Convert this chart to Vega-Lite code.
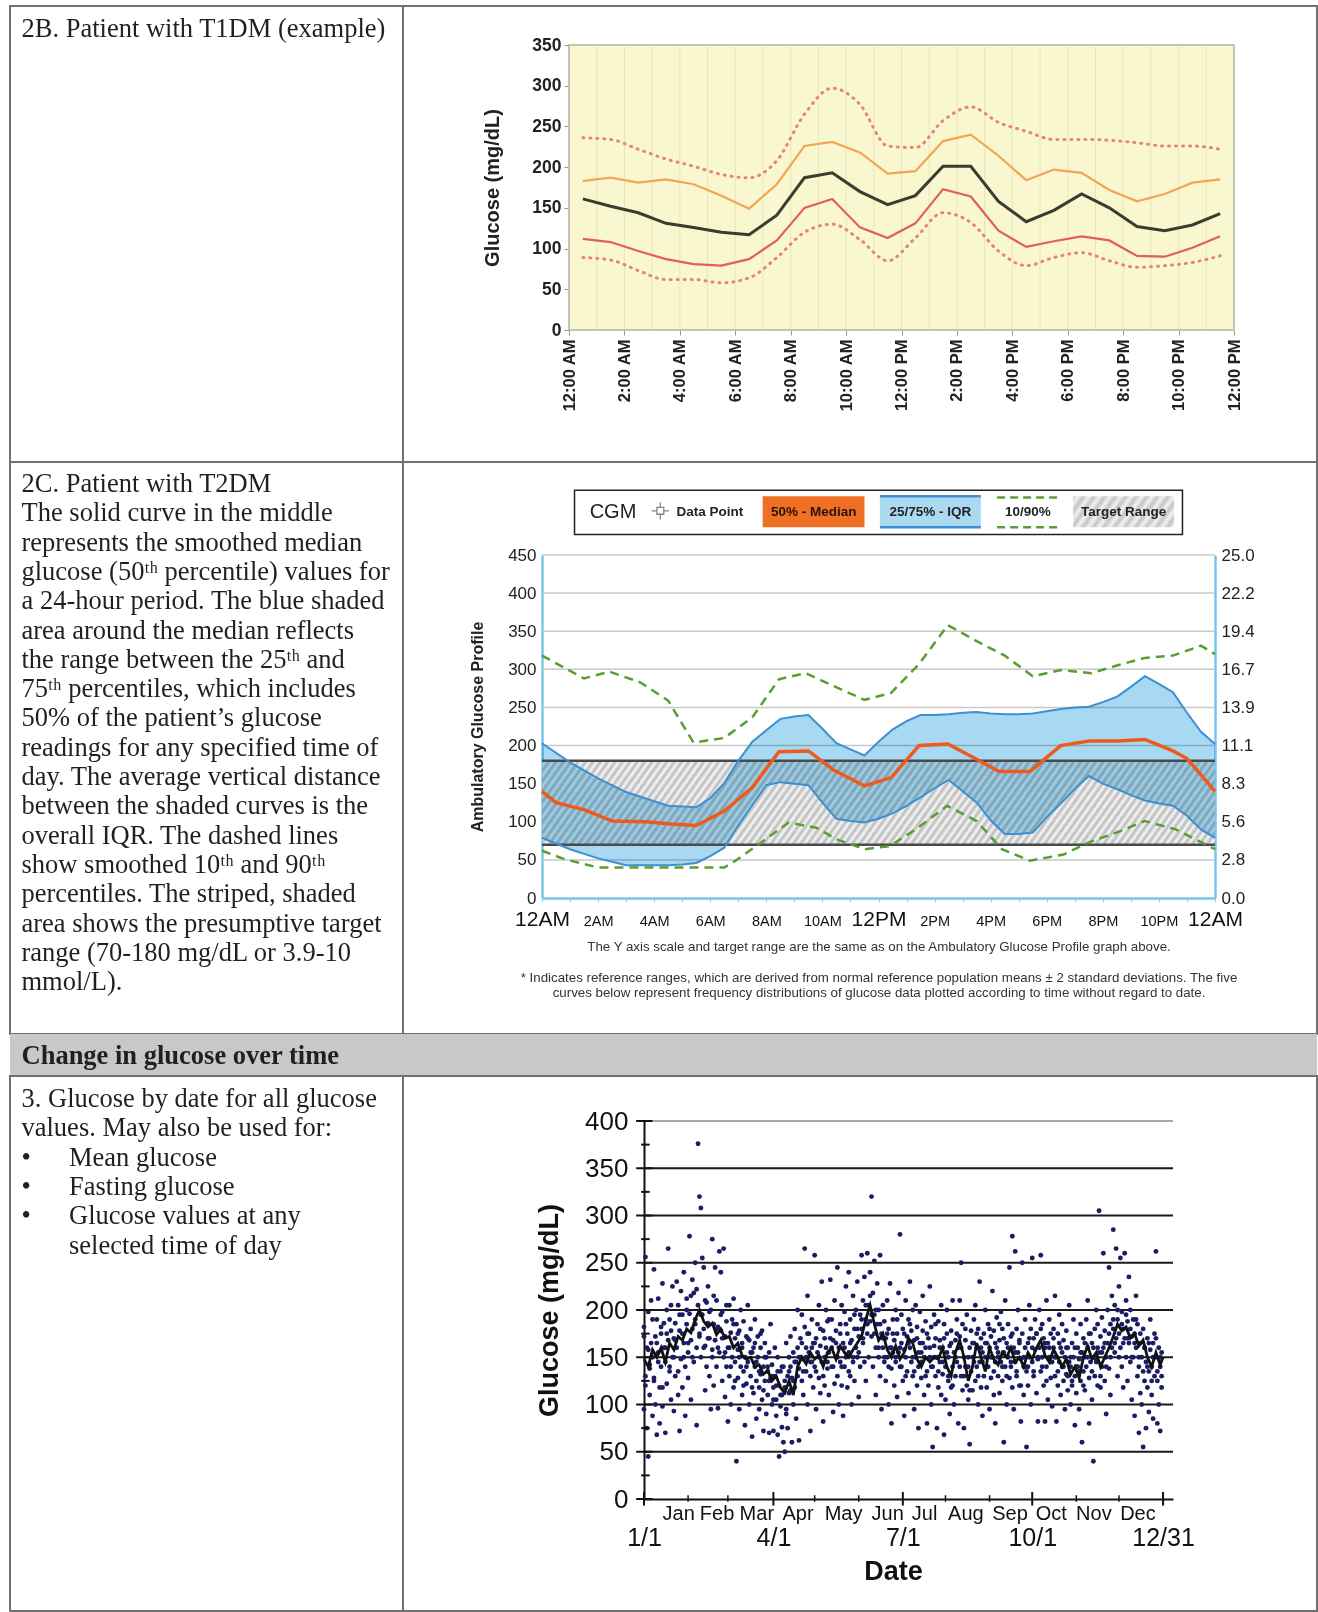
{
"$schema": "https://vega.github.io/schema/vega-lite/v6.json",
"padding": {"left": 9, "top": 5, "right": 0, "bottom": 0},
"background": "white",
"config": {
  "view": {"stroke": null},
  "axis": {"grid": false, "labelFont": "Liberation Sans", "titleFont": "Liberation Sans", "labelColor": "#222", "titleColor": "#222"},
  "text": {"font": "Liberation Sans"}
},
"datasets": {
  "agp1": [
    {"h":0.5,"p10":89,"p25":112,"p50":161,"p75":183,"p90":236},
    {"h":1.5,"p10":86,"p25":108,"p50":152,"p75":187,"p90":234},
    {"h":2.5,"p10":73,"p25":97,"p50":144,"p75":181,"p90":222},
    {"h":3.5,"p10":62,"p25":87,"p50":131,"p75":185,"p90":210},
    {"h":4.5,"p10":62,"p25":81,"p50":126,"p75":179,"p90":201},
    {"h":5.5,"p10":58,"p25":79,"p50":120,"p75":165,"p90":191},
    {"h":6.5,"p10":64,"p25":87,"p50":117,"p75":149,"p90":187},
    {"h":7.5,"p10":89,"p25":110,"p50":141,"p75":179,"p90":208},
    {"h":8.5,"p10":120,"p25":150,"p50":187,"p75":226,"p90":265},
    {"h":9.5,"p10":130,"p25":161,"p50":193,"p75":231,"p90":297},
    {"h":10.5,"p10":111,"p25":126,"p50":170,"p75":218,"p90":277},
    {"h":11.5,"p10":85,"p25":113,"p50":154,"p75":192,"p90":226},
    {"h":12.5,"p10":113,"p25":131,"p50":165,"p75":195,"p90":224},
    {"h":13.5,"p10":144,"p25":173,"p50":201,"p75":232,"p90":257},
    {"h":14.5,"p10":132,"p25":164,"p50":201,"p75":240,"p90":274},
    {"h":15.5,"p10":97,"p25":122,"p50":158,"p75":214,"p90":255},
    {"h":16.5,"p10":79,"p25":102,"p50":133,"p75":184,"p90":244},
    {"h":17.5,"p10":89,"p25":109,"p50":147,"p75":197,"p90":234},
    {"h":18.5,"p10":95,"p25":115,"p50":167,"p75":193,"p90":234},
    {"h":19.5,"p10":85,"p25":110,"p50":150,"p75":172,"p90":233},
    {"h":20.5,"p10":77,"p25":91,"p50":127,"p75":158,"p90":230},
    {"h":21.5,"p10":79,"p25":90,"p50":122,"p75":167,"p90":226},
    {"h":22.5,"p10":83,"p25":101,"p50":129,"p75":181,"p90":226},
    {"h":23.5,"p10":91,"p25":115,"p50":143,"p75":185,"p90":222}
  ],
  "iqr": [
    {"h":0,"lo":79,"hi":203},{"h":1,"lo":64,"hi":178},{"h":2,"lo":52,"hi":157},{"h":3,"lo":43,"hi":139},
    {"h":4,"lo":43,"hi":127},{"h":4.5,"lo":43,"hi":121},{"h":5,"lo":44,"hi":120},{"h":5.5,"lo":46,"hi":119},
    {"h":6,"lo":55,"hi":131},{"h":6.5,"lo":66,"hi":151},{"h":7,"lo":95,"hi":180},{"h":7.5,"lo":122,"hi":205},
    {"h":8,"lo":148,"hi":220},{"h":8.5,"lo":152,"hi":235},{"h":9,"lo":150,"hi":238},{"h":9.5,"lo":148,"hi":240},
    {"h":10,"lo":125,"hi":222},{"h":10.5,"lo":104,"hi":203},{"h":11,"lo":101,"hi":195},{"h":11.5,"lo":99,"hi":187},
    {"h":12,"lo":104,"hi":205},{"h":12.5,"lo":111,"hi":221},{"h":13,"lo":121,"hi":232},{"h":13.5,"lo":132,"hi":240},
    {"h":14,"lo":144,"hi":240},{"h":14.5,"lo":155,"hi":241},{"h":15,"lo":140,"hi":243},{"h":15.5,"lo":125,"hi":244},
    {"h":16,"lo":102,"hi":242},{"h":16.5,"lo":84,"hi":241},{"h":17,"lo":84,"hi":241},{"h":17.5,"lo":86,"hi":242},
    {"h":18,"lo":106,"hi":245},{"h":18.5,"lo":124,"hi":248},{"h":19,"lo":143,"hi":250},{"h":19.5,"lo":160,"hi":251},
    {"h":20,"lo":150,"hi":257},{"h":20.5,"lo":143,"hi":264},{"h":21,"lo":135,"hi":277},{"h":21.5,"lo":128,"hi":291},
    {"h":22,"lo":124,"hi":281},{"h":22.5,"lo":121,"hi":270},{"h":23,"lo":108,"hi":243},{"h":23.5,"lo":90,"hi":218},
    {"h":24,"lo":79,"hi":202}
  ],
  "g50": [
    {"h":0,"v":140},{"h":0.5,"v":125},{"h":1.5,"v":116},{"h":2.5,"v":101},{"h":3.7,"v":100},{"h":4.6,"v":97},
    {"h":5.5,"v":95},{"h":6.5,"v":114},{"h":7.5,"v":145},{"h":8.45,"v":192},{"h":9.5,"v":193},{"h":10.4,"v":168},
    {"h":11.5,"v":147},{"h":12.45,"v":158},{"h":13.45,"v":200},{"h":14.47,"v":202},{"h":15.5,"v":182},{"h":16.3,"v":166},
    {"h":17.4,"v":166},{"h":18.5,"v":200},{"h":19.5,"v":206},{"h":20.5,"v":206},{"h":21.5,"v":208},{"h":22.5,"v":193},
    {"h":23,"v":183},{"h":24,"v":140}
  ],
  "g90": [
    {"h":0,"v":318},{"h":1.5,"v":288},{"h":2.4,"v":297},{"h":3.5,"v":283},{"h":4.5,"v":259},{"h":5.4,"v":204},
    {"h":6.5,"v":210},{"h":7.5,"v":237},{"h":8.45,"v":287},{"h":9.4,"v":295},{"h":10.4,"v":278},{"h":11.5,"v":260},
    {"h":12.45,"v":269},{"h":13.45,"v":307},{"h":14.47,"v":358},{"h":15.5,"v":337},{"h":16.5,"v":318},{"h":17.5,"v":291},
    {"h":18.5,"v":299},{"h":19.6,"v":295},{"h":20.5,"v":305},{"h":21.5,"v":315},{"h":22.5,"v":318},{"h":23.5,"v":331},
    {"h":24,"v":320}
  ],
  "g10": [
    {"h":0,"v":62},{"h":0.8,"v":51},{"h":2,"v":40},{"h":4,"v":40},{"h":6.5,"v":40},{"h":6.9,"v":49},
    {"h":7.9,"v":75},{"h":8.8,"v":99},{"h":9.8,"v":92},{"h":10.5,"v":77},{"h":11.5,"v":64},{"h":12.4,"v":68},
    {"h":13.4,"v":92},{"h":14.45,"v":121},{"h":15.5,"v":101},{"h":16.4,"v":64},{"h":17.4,"v":49},{"h":18.6,"v":57},
    {"h":19.5,"v":73},{"h":20.5,"v":86},{"h":21.5,"v":101},{"h":22.6,"v":90},{"h":24,"v":64}
  ],
  "tr": [
    {"d":0,"g":148},{"d":3,"g":140},{"d":6,"g":158},{"d":9,"g":150},{"d":12,"g":160},{"d":15,"g":145},{"d":18,"g":165},{"d":21,"g":158},
    {"d":24,"g":172},{"d":27,"g":168},{"d":30,"g":180},{"d":33,"g":176},{"d":36,"g":190},{"d":39,"g":200},{"d":42,"g":188},{"d":45,"g":182},
    {"d":48,"g":186},{"d":51,"g":174},{"d":54,"g":180},{"d":57,"g":170},{"d":60,"g":172},{"d":63,"g":160},{"d":66,"g":165},{"d":69,"g":152},
    {"d":72,"g":148},{"d":75,"g":150},{"d":78,"g":140},{"d":81,"g":142},{"d":84,"g":132},{"d":87,"g":136},{"d":90,"g":125},{"d":93,"g":130},
    {"d":96,"g":118},{"d":99,"g":112},{"d":102,"g":125},{"d":105,"g":110},{"d":108,"g":140},{"d":111,"g":150},{"d":114,"g":143},{"d":117,"g":155},
    {"d":120,"g":148},{"d":123,"g":152},{"d":126,"g":140},{"d":129,"g":155},{"d":132,"g":160},{"d":135,"g":148},{"d":138,"g":162},{"d":141,"g":155},
    {"d":144,"g":150},{"d":147,"g":158},{"d":150,"g":165},{"d":153,"g":172},{"d":156,"g":190},{"d":159,"g":205},{"d":162,"g":185},{"d":165,"g":168},
    {"d":168,"g":175},{"d":171,"g":158},{"d":174,"g":150},{"d":177,"g":162},{"d":180,"g":148},{"d":183,"g":155},{"d":186,"g":170},{"d":189,"g":165},
    {"d":192,"g":148},{"d":195,"g":140},{"d":198,"g":150},{"d":201,"g":145},{"d":204,"g":150},{"d":207,"g":148},{"d":210,"g":160},{"d":213,"g":140},
    {"d":216,"g":130},{"d":219,"g":155},{"d":222,"g":168},{"d":225,"g":150},{"d":228,"g":125},{"d":231,"g":140},{"d":234,"g":165},{"d":237,"g":150},
    {"d":240,"g":135},{"d":243,"g":160},{"d":246,"g":148},{"d":249,"g":142},{"d":252,"g":155},{"d":255,"g":150},{"d":258,"g":160},{"d":261,"g":145},
    {"d":264,"g":150},{"d":267,"g":140},{"d":270,"g":155},{"d":273,"g":148},{"d":276,"g":160},{"d":279,"g":168},{"d":282,"g":152},{"d":285,"g":145},
    {"d":288,"g":158},{"d":291,"g":150},{"d":294,"g":140},{"d":297,"g":148},{"d":300,"g":132},{"d":303,"g":140},{"d":306,"g":128},{"d":309,"g":150},
    {"d":312,"g":162},{"d":315,"g":148},{"d":318,"g":155},{"d":321,"g":140},{"d":324,"g":150},{"d":327,"g":160},{"d":330,"g":172},{"d":333,"g":185},
    {"d":336,"g":178},{"d":339,"g":182},{"d":342,"g":170},{"d":345,"g":175},{"d":348,"g":162},{"d":351,"g":168},{"d":354,"g":150},{"d":357,"g":140},
    {"d":360,"g":155},{"d":363,"g":142},{"d":365,"g":150}
  ],
  "sc": [
    {"d":0,"g":95},{"d":0,"g":182},{"d":1,"g":130},{"d":1,"g":256},{"d":2,"g":160},{"d":2,"g":75},{"d":3,"g":45},{"d":3,"g":198},{"d":4,"g":142},{"d":4,"g":110},{"d":5,"g":210},{"d":5,"g":165},{"d":6,"g":88},{"d":6,"g":150},{"d":7,"g":243},{"d":7,"g":125},{"d":8,"g":172},{"d":8,"g":100},{"d":9,"g":190},{"d":9,"g":68},
    {"d":10,"g":155},{"d":10,"g":212},{"d":11,"g":118},{"d":11,"g":80},{"d":12,"g":175},{"d":12,"g":140},{"d":13,"g":228},{"d":13,"g":98},{"d":14,"g":160},{"d":14,"g":186},{"d":15,"g":70},{"d":15,"g":145},{"d":16,"g":200},{"d":16,"g":122},{"d":17,"g":168},{"d":17,"g":265},{"d":18,"g":135},{"d":18,"g":190},{"d":19,"g":105},{"d":19,"g":178},
    {"d":20,"g":225},{"d":20,"g":150},{"d":21,"g":93},{"d":21,"g":170},{"d":22,"g":186},{"d":22,"g":130},{"d":23,"g":230},{"d":23,"g":160},{"d":24,"g":110},{"d":24,"g":205},{"d":25,"g":178},{"d":25,"g":72},{"d":26,"g":148},{"d":26,"g":220},{"d":27,"g":195},{"d":27,"g":118},{"d":28,"g":165},{"d":28,"g":240},{"d":29,"g":140},{"d":29,"g":88},
    {"d":30,"g":185},{"d":30,"g":212},{"d":31,"g":155},{"d":31,"g":128},{"d":32,"g":278},{"d":32,"g":196},{"d":33,"g":168},{"d":33,"g":105},{"d":34,"g":232},{"d":34,"g":180},{"d":35,"g":145},{"d":35,"g":218},{"d":36,"g":190},{"d":36,"g":250},{"d":37,"g":160},{"d":37,"g":78},{"d":38,"g":376},{"d":38,"g":205},{"d":39,"g":320},{"d":39,"g":172},{"d":40,"g":308},{"d":40,"g":150},{"d":41,"g":255},{"d":41,"g":195},
    {"d":42,"g":245},{"d":42,"g":180},{"d":43,"g":162},{"d":43,"g":115},{"d":44,"g":208},{"d":44,"g":140},{"d":45,"g":186},{"d":45,"g":225},{"d":46,"g":130},{"d":46,"g":170},{"d":47,"g":200},{"d":47,"g":95},{"d":48,"g":158},{"d":48,"g":275},{"d":49,"g":185},{"d":49,"g":120},
    {"d":50,"g":245},{"d":50,"g":168},{"d":51,"g":210},{"d":51,"g":140},{"d":52,"g":182},{"d":52,"g":96},{"d":53,"g":262},{"d":53,"g":155},{"d":54,"g":240},{"d":54,"g":178},{"d":55,"g":198},{"d":55,"g":125},{"d":56,"g":150},{"d":56,"g":265},{"d":57,"g":172},{"d":57,"g":108},{"d":58,"g":188},{"d":58,"g":140},{"d":59,"g":160},{"d":59,"g":82},
    {"d":60,"g":205},{"d":60,"g":130},{"d":61,"g":176},{"d":61,"g":100},{"d":62,"g":150},{"d":62,"g":190},{"d":63,"g":212},{"d":63,"g":118},{"d":64,"g":170},{"d":64,"g":145},{"d":65,"g":40},{"d":65,"g":185},{"d":66,"g":158},{"d":66,"g":128},{"d":67,"g":178},{"d":67,"g":95},{"d":68,"g":140},{"d":68,"g":200},{"d":69,"g":160},{"d":69,"g":110},
    {"d":70,"g":188},{"d":70,"g":135},{"d":71,"g":150},{"d":71,"g":78},{"d":72,"g":172},{"d":72,"g":122},{"d":73,"g":145},{"d":73,"g":205},{"d":74,"g":168},{"d":74,"g":100},{"d":75,"g":130},{"d":75,"g":180},{"d":76,"g":155},{"d":76,"g":66},{"d":77,"g":112},{"d":77,"g":160},{"d":78,"g":140},{"d":78,"g":190},{"d":79,"g":125},{"d":79,"g":85},
    {"d":80,"g":150},{"d":80,"g":172},{"d":81,"g":118},{"d":81,"g":95},{"d":82,"g":160},{"d":82,"g":132},{"d":83,"g":105},{"d":83,"g":178},{"d":84,"g":140},{"d":84,"g":72},{"d":85,"g":125},{"d":85,"g":165},{"d":86,"g":150},{"d":86,"g":90},{"d":87,"g":110},{"d":87,"g":135},{"d":88,"g":70},{"d":88,"g":155},{"d":89,"g":128},{"d":89,"g":185},
    {"d":90,"g":100},{"d":90,"g":142},{"d":91,"g":72},{"d":91,"g":118},{"d":92,"g":160},{"d":92,"g":130},{"d":93,"g":88},{"d":93,"g":105},{"d":94,"g":150},{"d":94,"g":68},{"d":95,"g":120},{"d":95,"g":45},{"d":96,"g":135},{"d":96,"g":98},{"d":97,"g":76},{"d":97,"g":110},{"d":98,"g":140},{"d":98,"g":60},{"d":99,"g":125},{"d":99,"g":50},
    {"d":100,"g":165},{"d":100,"g":95},{"d":101,"g":130},{"d":101,"g":75},{"d":102,"g":150},{"d":102,"g":112},{"d":103,"g":140},{"d":103,"g":172},{"d":104,"g":60},{"d":104,"g":128},{"d":105,"g":155},{"d":105,"g":100},{"d":106,"g":118},{"d":106,"g":180},{"d":107,"g":145},{"d":107,"g":85},{"d":108,"g":160},{"d":108,"g":200},{"d":109,"g":138},{"d":109,"g":62},
    {"d":110,"g":170},{"d":110,"g":150},{"d":111,"g":125},{"d":111,"g":195},{"d":112,"g":148},{"d":112,"g":110},{"d":113,"g":182},{"d":113,"g":265},{"d":114,"g":160},{"d":114,"g":135},{"d":115,"g":215},{"d":115,"g":100},{"d":116,"g":155},{"d":116,"g":175},{"d":117,"g":130},{"d":117,"g":72},{"d":118,"g":190},{"d":118,"g":145},{"d":119,"g":165},{"d":119,"g":118},
    {"d":120,"g":258},{"d":120,"g":140},{"d":121,"g":170},{"d":121,"g":95},{"d":122,"g":185},{"d":122,"g":155},{"d":123,"g":128},{"d":123,"g":205},{"d":124,"g":162},{"d":124,"g":112},{"d":125,"g":145},{"d":125,"g":230},{"d":126,"g":178},{"d":126,"g":82},{"d":127,"g":150},{"d":127,"g":120},{"d":128,"g":200},{"d":128,"g":160},{"d":129,"g":138},{"d":129,"g":188},
    {"d":130,"g":155},{"d":130,"g":110},{"d":131,"g":232},{"d":131,"g":170},{"d":132,"g":140},{"d":132,"g":190},{"d":133,"g":168},{"d":133,"g":92},{"d":134,"g":122},{"d":134,"g":210},{"d":135,"g":150},{"d":135,"g":178},{"d":136,"g":245},{"d":136,"g":130},{"d":137,"g":160},{"d":137,"g":100},{"d":138,"g":185},{"d":138,"g":145},{"d":139,"g":120},{"d":139,"g":205},
    {"d":140,"g":165},{"d":140,"g":88},{"d":141,"g":198},{"d":141,"g":140},{"d":142,"g":150},{"d":142,"g":225},{"d":143,"g":175},{"d":143,"g":118},{"d":144,"g":240},{"d":144,"g":155},{"d":145,"g":130},{"d":145,"g":190},{"d":146,"g":168},{"d":146,"g":100},{"d":147,"g":145},{"d":147,"g":215},{"d":148,"g":180},{"d":148,"g":125},{"d":149,"g":160},{"d":149,"g":200},
    {"d":150,"g":230},{"d":150,"g":150},{"d":151,"g":172},{"d":151,"g":108},{"d":152,"g":195},{"d":152,"g":140},{"d":153,"g":258},{"d":153,"g":180},{"d":154,"g":210},{"d":154,"g":165},{"d":155,"g":145},{"d":155,"g":235},{"d":156,"g":190},{"d":156,"g":125},{"d":157,"g":260},{"d":157,"g":175},{"d":158,"g":205},{"d":158,"g":150},{"d":159,"g":240},{"d":159,"g":188},
    {"d":160,"g":320},{"d":160,"g":172},{"d":161,"g":218},{"d":161,"g":140},{"d":162,"g":195},{"d":162,"g":252},{"d":163,"g":160},{"d":163,"g":110},{"d":164,"g":185},{"d":164,"g":228},{"d":165,"g":150},{"d":165,"g":200},{"d":166,"g":258},{"d":166,"g":130},{"d":167,"g":175},{"d":167,"g":95},{"d":168,"g":205},{"d":168,"g":160},{"d":169,"g":145},{"d":169,"g":188},
    {"d":170,"g":170},{"d":170,"g":125},{"d":171,"g":210},{"d":171,"g":150},{"d":172,"g":100},{"d":172,"g":180},{"d":173,"g":160},{"d":173,"g":228},{"d":174,"g":138},{"d":174,"g":80},{"d":175,"g":190},{"d":175,"g":155},{"d":176,"g":120},{"d":176,"g":168},{"d":177,"g":200},{"d":177,"g":145},{"d":178,"g":175},{"d":178,"g":108},{"d":179,"g":155},{"d":179,"g":218},
    {"d":180,"g":280},{"d":180,"g":140},{"d":181,"g":165},{"d":181,"g":195},{"d":182,"g":125},{"d":182,"g":180},{"d":183,"g":158},{"d":183,"g":88},{"d":184,"g":210},{"d":184,"g":150},{"d":185,"g":135},{"d":185,"g":172},{"d":186,"g":190},{"d":186,"g":112},{"d":187,"g":160},{"d":187,"g":230},{"d":188,"g":145},{"d":188,"g":178},{"d":189,"g":200},{"d":189,"g":130},
    {"d":190,"g":168},{"d":190,"g":95},{"d":191,"g":150},{"d":191,"g":205},{"d":192,"g":182},{"d":192,"g":120},{"d":193,"g":140},{"d":193,"g":75},{"d":194,"g":165},{"d":194,"g":198},{"d":195,"g":128},{"d":195,"g":155},{"d":196,"g":178},{"d":196,"g":215},{"d":197,"g":110},{"d":197,"g":150},{"d":198,"g":160},{"d":198,"g":188},{"d":199,"g":135},{"d":199,"g":80},
    {"d":200,"g":170},{"d":200,"g":120},{"d":201,"g":150},{"d":201,"g":225},{"d":202,"g":100},{"d":202,"g":182},{"d":203,"g":140},{"d":203,"g":55},{"d":204,"g":162},{"d":204,"g":195},{"d":205,"g":130},{"d":205,"g":170},{"d":206,"g":75},{"d":206,"g":150},{"d":207,"g":188},{"d":207,"g":118},{"d":208,"g":145},{"d":208,"g":168},{"d":209,"g":205},{"d":209,"g":110},
    {"d":210,"g":160},{"d":210,"g":132},{"d":211,"g":185},{"d":211,"g":68},{"d":212,"g":140},{"d":212,"g":105},{"d":213,"g":175},{"d":213,"g":200},{"d":214,"g":125},{"d":214,"g":150},{"d":215,"g":90},{"d":215,"g":162},{"d":216,"g":118},{"d":216,"g":178},{"d":217,"g":140},{"d":217,"g":210},{"d":218,"g":100},{"d":218,"g":155},{"d":219,"g":130},{"d":219,"g":168},
    {"d":220,"g":190},{"d":220,"g":145},{"d":221,"g":160},{"d":221,"g":80},{"d":222,"g":210},{"d":222,"g":172},{"d":223,"g":130},{"d":223,"g":250},{"d":224,"g":185},{"d":224,"g":115},{"d":225,"g":150},{"d":225,"g":75},{"d":226,"g":168},{"d":226,"g":140},{"d":227,"g":120},{"d":227,"g":195},{"d":228,"g":105},{"d":228,"g":150},{"d":229,"g":160},{"d":229,"g":58},
    {"d":230,"g":135},{"d":230,"g":178},{"d":231,"g":150},{"d":231,"g":115},{"d":232,"g":190},{"d":232,"g":165},{"d":233,"g":125},{"d":233,"g":205},{"d":234,"g":160},{"d":234,"g":140},{"d":235,"g":100},{"d":235,"g":180},{"d":236,"g":145},{"d":236,"g":230},{"d":237,"g":170},{"d":237,"g":118},{"d":238,"g":155},{"d":238,"g":88},{"d":239,"g":130},{"d":239,"g":175},
    {"d":240,"g":150},{"d":240,"g":200},{"d":241,"g":118},{"d":241,"g":165},{"d":242,"g":185},{"d":242,"g":140},{"d":243,"g":95},{"d":243,"g":160},{"d":244,"g":172},{"d":244,"g":128},{"d":245,"g":220},{"d":245,"g":150},{"d":246,"g":110},{"d":246,"g":178},{"d":247,"g":145},{"d":247,"g":80},{"d":248,"g":160},{"d":248,"g":192},{"d":249,"g":130},{"d":249,"g":155},
    {"d":250,"g":168},{"d":250,"g":112},{"d":251,"g":145},{"d":251,"g":198},{"d":252,"g":180},{"d":252,"g":125},{"d":253,"g":155},{"d":253,"g":60},{"d":254,"g":210},{"d":254,"g":140},{"d":255,"g":165},{"d":255,"g":100},{"d":256,"g":150},{"d":256,"g":185},{"d":257,"g":128},{"d":257,"g":245},{"d":258,"g":172},{"d":258,"g":140},{"d":259,"g":118},{"d":259,"g":278},
    {"d":260,"g":160},{"d":260,"g":95},{"d":261,"g":262},{"d":261,"g":145},{"d":262,"g":180},{"d":262,"g":130},{"d":263,"g":155},{"d":263,"g":200},{"d":264,"g":120},{"d":264,"g":168},{"d":265,"g":148},{"d":265,"g":82},{"d":266,"g":175},{"d":266,"g":250},{"d":267,"g":140},{"d":267,"g":110},{"d":268,"g":190},{"d":268,"g":160},{"d":269,"g":135},{"d":269,"g":55},
    {"d":270,"g":165},{"d":270,"g":120},{"d":271,"g":150},{"d":271,"g":205},{"d":272,"g":180},{"d":272,"g":100},{"d":273,"g":145},{"d":273,"g":255},{"d":274,"g":170},{"d":274,"g":130},{"d":275,"g":190},{"d":275,"g":158},{"d":276,"g":112},{"d":276,"g":175},{"d":277,"g":148},{"d":277,"g":82},{"d":278,"g":200},{"d":278,"g":160},{"d":279,"g":135},{"d":279,"g":258},
    {"d":280,"g":185},{"d":280,"g":150},{"d":281,"g":120},{"d":281,"g":170},{"d":282,"g":160},{"d":282,"g":82},{"d":283,"g":210},{"d":283,"g":140},{"d":284,"g":165},{"d":284,"g":105},{"d":285,"g":150},{"d":285,"g":190},{"d":286,"g":128},{"d":286,"g":175},{"d":287,"g":145},{"d":287,"g":98},{"d":288,"g":180},{"d":288,"g":160},{"d":289,"g":130},{"d":289,"g":215},
    {"d":290,"g":150},{"d":290,"g":82},{"d":291,"g":175},{"d":291,"g":120},{"d":292,"g":195},{"d":292,"g":145},{"d":293,"g":160},{"d":293,"g":110},{"d":294,"g":140},{"d":294,"g":185},{"d":295,"g":125},{"d":295,"g":168},{"d":296,"g":150},{"d":296,"g":95},{"d":297,"g":178},{"d":297,"g":132},{"d":298,"g":115},{"d":298,"g":160},{"d":299,"g":145},{"d":299,"g":205},
    {"d":300,"g":100},{"d":300,"g":140},{"d":301,"g":165},{"d":301,"g":120},{"d":302,"g":150},{"d":302,"g":190},{"d":303,"g":130},{"d":303,"g":78},{"d":304,"g":175},{"d":304,"g":112},{"d":305,"g":140},{"d":305,"g":160},{"d":306,"g":95},{"d":306,"g":148},{"d":307,"g":185},{"d":307,"g":125},{"d":308,"g":155},{"d":308,"g":60},{"d":309,"g":170},{"d":309,"g":135},
    {"d":310,"g":150},{"d":310,"g":115},{"d":311,"g":190},{"d":311,"g":140},{"d":312,"g":160},{"d":312,"g":210},{"d":313,"g":128},{"d":313,"g":80},{"d":314,"g":175},{"d":314,"g":145},{"d":315,"g":105},{"d":315,"g":165},{"d":316,"g":150},{"d":316,"g":40},{"d":317,"g":180},{"d":317,"g":130},{"d":318,"g":148},{"d":318,"g":200},{"d":319,"g":120},{"d":319,"g":160},
    {"d":320,"g":305},{"d":320,"g":155},{"d":321,"g":172},{"d":321,"g":118},{"d":322,"g":140},{"d":322,"g":192},{"d":323,"g":260},{"d":323,"g":160},{"d":324,"g":125},{"d":324,"g":178},{"d":325,"g":150},{"d":325,"g":90},{"d":326,"g":200},{"d":326,"g":165},{"d":327,"g":245},{"d":327,"g":138},{"d":328,"g":185},{"d":328,"g":110},{"d":329,"g":160},{"d":329,"g":215},
    {"d":330,"g":285},{"d":330,"g":180},{"d":331,"g":155},{"d":331,"g":205},{"d":332,"g":265},{"d":332,"g":170},{"d":333,"g":190},{"d":333,"g":130},{"d":334,"g":225},{"d":334,"g":175},{"d":335,"g":160},{"d":335,"g":255},{"d":336,"g":198},{"d":336,"g":140},{"d":337,"g":180},{"d":337,"g":118},{"d":338,"g":260},{"d":338,"g":170},{"d":339,"g":150},{"d":339,"g":210},
    {"d":340,"g":188},{"d":340,"g":125},{"d":341,"g":235},{"d":341,"g":165},{"d":342,"g":145},{"d":342,"g":200},{"d":343,"g":172},{"d":343,"g":105},{"d":344,"g":190},{"d":344,"g":150},{"d":345,"g":88},{"d":345,"g":175},{"d":346,"g":160},{"d":346,"g":215},{"d":347,"g":130},{"d":347,"g":185},{"d":348,"g":140},{"d":348,"g":70},{"d":349,"g":165},{"d":349,"g":112},
    {"d":350,"g":150},{"d":350,"g":100},{"d":351,"g":180},{"d":351,"g":55},{"d":352,"g":125},{"d":352,"g":160},{"d":353,"g":75},{"d":353,"g":145},{"d":354,"g":170},{"d":354,"g":118},{"d":355,"g":135},{"d":355,"g":92},{"d":356,"g":158},{"d":356,"g":190},{"d":357,"g":110},{"d":357,"g":140},{"d":358,"g":165},{"d":358,"g":85},{"d":359,"g":130},{"d":359,"g":175},
    {"d":360,"g":262},{"d":360,"g":150},{"d":361,"g":125},{"d":361,"g":80},{"d":362,"g":160},{"d":362,"g":100},{"d":363,"g":140},{"d":363,"g":72},{"d":364,"g":155},{"d":364,"g":118},
    {"d":0,"g":172},{"d":1,"g":120},{"d":3,"g":158},{"d":4,"g":138},{"d":6,"g":190},{"d":7,"g":128},{"d":9,"g":165},{"d":10,"g":145},{"d":12,"g":182},{"d":13,"g":118},{"d":15,"g":160},{"d":16,"g":175},{"d":18,"g":140},{"d":19,"g":205},{"d":21,"g":150},{"d":22,"g":168},{"d":24,"g":135},{"d":25,"g":195},{"d":27,"g":175},{"d":28,"g":150},
    {"d":30,"g":200},{"d":31,"g":165},{"d":33,"g":215},{"d":34,"g":150},{"d":36,"g":185},{"d":37,"g":222},{"d":39,"g":175},{"d":40,"g":195},{"d":42,"g":160},{"d":43,"g":210},{"d":45,"g":170},{"d":46,"g":198},{"d":48,"g":150},{"d":49,"g":215},{"d":51,"g":180},{"d":52,"g":160},{"d":54,"g":195},{"d":55,"g":170},{"d":57,"g":155},{"d":58,"g":205},
    {"d":60,"g":160},{"d":61,"g":140},{"d":63,"g":185},{"d":64,"g":125},{"d":66,"g":175},{"d":67,"g":150},{"d":69,"g":165},{"d":70,"g":120},{"d":72,"g":140},{"d":73,"g":170},{"d":75,"g":155},{"d":76,"g":118},{"d":78,"g":165},{"d":79,"g":145},{"d":81,"g":135},{"d":82,"g":175},{"d":84,"g":115},{"d":85,"g":150},{"d":87,"g":140},{"d":88,"g":125},
    {"d":90,"g":130},{"d":91,"g":105},{"d":93,"g":120},{"d":94,"g":135},{"d":96,"g":110},{"d":97,"g":140},{"d":99,"g":118},{"d":100,"g":90},{"d":102,"g":135},{"d":103,"g":115},{"d":105,"g":125},{"d":106,"g":145},{"d":108,"g":130},{"d":109,"g":150},{"d":111,"g":165},{"d":112,"g":135},{"d":114,"g":150},{"d":115,"g":175},{"d":117,"g":145},{"d":118,"g":160},
    {"d":120,"g":165},{"d":121,"g":135},{"d":123,"g":150},{"d":124,"g":180},{"d":126,"g":130},{"d":127,"g":170},{"d":129,"g":145},{"d":130,"g":190},{"d":132,"g":160},{"d":133,"g":140},{"d":135,"g":165},{"d":136,"g":150},{"d":138,"g":175},{"d":139,"g":140},{"d":141,"g":160},{"d":142,"g":185},{"d":144,"g":135},{"d":145,"g":165},{"d":147,"g":150},{"d":148,"g":195},
    {"d":150,"g":180},{"d":151,"g":155},{"d":153,"g":190},{"d":154,"g":170},{"d":156,"g":205},{"d":157,"g":185},{"d":159,"g":215},{"d":160,"g":195},{"d":162,"g":175},{"d":163,"g":200},{"d":165,"g":160},{"d":166,"g":185},{"d":168,"g":170},{"d":169,"g":150},{"d":171,"g":175},{"d":172,"g":140},{"d":174,"g":160},{"d":175,"g":175},{"d":177,"g":150},{"d":178,"g":190},
    {"d":180,"g":160},{"d":181,"g":140},{"d":183,"g":175},{"d":184,"g":130},{"d":186,"g":165},{"d":187,"g":185},{"d":189,"g":150},{"d":190,"g":135},{"d":192,"g":170},{"d":193,"g":155},{"d":195,"g":145},{"d":196,"g":165},{"d":198,"g":130},{"d":199,"g":175},{"d":201,"g":160},{"d":202,"g":140},{"d":204,"g":150},{"d":205,"g":185},{"d":207,"g":135},{"d":208,"g":160},
    {"d":210,"g":145},{"d":211,"g":170},{"d":213,"g":155},{"d":214,"g":130},{"d":216,"g":165},{"d":217,"g":120},{"d":219,"g":150},{"d":220,"g":175},{"d":222,"g":140},{"d":223,"g":160},{"d":225,"g":130},{"d":226,"g":180},{"d":228,"g":140},{"d":229,"g":115},{"d":231,"g":165},{"d":232,"g":145},{"d":234,"g":175},{"d":235,"g":130},{"d":237,"g":160},{"d":238,"g":145},
    {"d":240,"g":165},{"d":241,"g":140},{"d":243,"g":180},{"d":244,"g":150},{"d":246,"g":135},{"d":247,"g":165},{"d":249,"g":150},{"d":250,"g":185},{"d":252,"g":140},{"d":253,"g":170},{"d":255,"g":130},{"d":256,"g":160},{"d":258,"g":145},{"d":259,"g":175},{"d":261,"g":155},{"d":262,"g":135},{"d":264,"g":165},{"d":265,"g":120},{"d":267,"g":150},{"d":268,"g":140},
    {"d":270,"g":140},{"d":271,"g":170},{"d":273,"g":160},{"d":274,"g":135},{"d":276,"g":175},{"d":277,"g":150},{"d":279,"g":180},{"d":280,"g":140},{"d":282,"g":165},{"d":283,"g":125},{"d":285,"g":160},{"d":286,"g":145},{"d":288,"g":170},{"d":289,"g":150},{"d":291,"g":135},{"d":292,"g":165},{"d":294,"g":155},{"d":295,"g":140},{"d":297,"g":160},{"d":298,"g":130},
    {"d":300,"g":150},{"d":301,"g":125},{"d":303,"g":160},{"d":304,"g":140},{"d":306,"g":135},{"d":307,"g":155},{"d":309,"g":120},{"d":310,"g":165},{"d":312,"g":150},{"d":313,"g":175},{"d":315,"g":135},{"d":316,"g":160},{"d":318,"g":145},{"d":319,"g":185},{"d":321,"g":130},{"d":322,"g":155},{"d":324,"g":165},{"d":325,"g":140},{"d":327,"g":175},{"d":328,"g":150},
    {"d":330,"g":190},{"d":331,"g":165},{"d":333,"g":200},{"d":334,"g":150},{"d":336,"g":185},{"d":337,"g":165},{"d":339,"g":195},{"d":340,"g":170},{"d":342,"g":180},{"d":343,"g":150},{"d":345,"g":165},{"d":346,"g":190},{"d":348,"g":150},{"d":349,"g":175},{"d":351,"g":135},{"d":352,"g":160},{"d":354,"g":140},{"d":355,"g":165},{"d":357,"g":125},{"d":358,"g":150},
    {"d":360,"g":170},{"d":361,"g":135},{"d":363,"g":150},{"d":364,"g":130}
  ]
},
"columns": 2,
"spacing": 0,
"bounds": "flush",
"concat": [
  {
    "width": 393, "height": 456,
    "view": {"stroke": "#707070", "strokeWidth": 2},
    "data": {"values": [{"line": 0, "ind": 0, "t": "2B. Patient with T1DM (example)"}]},
    "mark": {"type": "text", "align": "left", "baseline": "middle", "font": "Liberation Serif", "fontSize": 26.5, "color": "#231f20"},
    "encoding": {
      "x": {"field": "ind", "type": "quantitative", "scale": {"domain": [0, 1], "range": [11.5, 59], "nice": false, "zero": false}, "axis": null},
      "y": {"field": "line", "type": "quantitative", "scale": {"domain": [0, 1], "range": [23, 52.3], "nice": false, "zero": false}, "axis": null},
      "text": {"field": "t"}
    }
  },
  {
    "width": 914, "height": 456,
    "view": {"stroke": "#707070", "strokeWidth": 2},
    "resolve": {"axis": {"x": "independent", "y": "independent"}},
    "layer": [
      {
        "data": {"values": [{}]},
        "mark": {"type": "rect", "fill": "#f9f7cf", "stroke": "#b4b4a6", "strokeWidth": 1.5},
        "encoding": {
          "x": {"datum": 0, "type": "quantitative", "scale": {"domain": [0, 24], "range": [166, 831], "nice": false, "zero": false}, "axis": null},
          "x2": {"datum": 24},
          "y": {"datum": 0, "type": "quantitative", "scale": {"domain": [0, 350], "range": [324, 39], "nice": false, "zero": false}, "axis": null},
          "y2": {"datum": 350}
        }
      },
      {
        "data": {"values": [{"h":1},{"h":2},{"h":3},{"h":4},{"h":5},{"h":6},{"h":7},{"h":8},{"h":9},{"h":10},{"h":11},{"h":12},{"h":13},{"h":14},{"h":15},{"h":16},{"h":17},{"h":18},{"h":19},{"h":20},{"h":21},{"h":22},{"h":23}]},
        "mark": {"type": "rule", "color": "#e8e6b9", "strokeWidth": 1},
        "encoding": {
          "x": {"field": "h", "type": "quantitative", "axis": null},
          "y": {"datum": 1, "type": "quantitative", "axis": null},
          "y2": {"datum": 349}
        }
      },
      {
        "data": {"name": "agp1"},
        "mark": {"type": "line", "color": "#e5837d", "strokeWidth": 3, "strokeDash": [1, 6], "strokeCap": "round", "interpolate": "monotone"},
        "encoding": {"x": {"field": "h", "type": "quantitative", "axis": null}, "y": {"field": "p90", "type": "quantitative", "axis": null}}
      },
      {
        "data": {"name": "agp1"},
        "mark": {"type": "line", "color": "#e5837d", "strokeWidth": 3, "strokeDash": [1, 6], "strokeCap": "round", "interpolate": "monotone"},
        "encoding": {"x": {"field": "h", "type": "quantitative", "axis": null}, "y": {"field": "p10", "type": "quantitative", "axis": null}}
      },
      {
        "data": {"name": "agp1"},
        "mark": {"type": "line", "color": "#f3a455", "strokeWidth": 2.2},
        "encoding": {"x": {"field": "h", "type": "quantitative", "axis": null}, "y": {"field": "p75", "type": "quantitative", "axis": null}}
      },
      {
        "data": {"name": "agp1"},
        "mark": {"type": "line", "color": "#e15f5b", "strokeWidth": 2.2},
        "encoding": {"x": {"field": "h", "type": "quantitative", "axis": null}, "y": {"field": "p25", "type": "quantitative", "axis": null}}
      },
      {
        "data": {"name": "agp1"},
        "mark": {"type": "line", "color": "#3b3b30", "strokeWidth": 3},
        "encoding": {
          "x": {"field": "h", "type": "quantitative",
                "axis": {"orient": "bottom", "offset": -132, "values": [0,2,4,6,8,10,12,14,16,18,20,22,24], "labelAngle": 270, "labelFontSize": 16.5, "labelFontWeight": "bold", "labelPadding": 4, "tickSize": 5, "tickColor": "#9a9a8a", "domain": false, "title": null, "labelExpr": "(datum.value % 12 === 0 ? '12' : '' + (datum.value % 12)) + ':00 ' + (datum.value < 12 ? 'AM' : 'PM')", "labelFlush": false, "labelOverlap": false}},
          "y": {"field": "p50", "type": "quantitative",
                "axis": {"orient": "left", "offset": -166, "values": [0,50,100,150,200,250,300,350], "labelFontSize": 17.5, "labelFontWeight": "bold", "labelPadding": 3, "tickSize": 5, "tickColor": "#9a9a8a", "domain": false, "title": "Glucose (mg/dL)", "titleFontSize": 20, "titleFontWeight": "bold", "titleX": -77, "titleBaseline": "middle", "titleAngle": 270}}
        }
      }
    ]
  },
  {
    "width": 393, "height": 572,
    "view": {"stroke": "#707070", "strokeWidth": 2},
    "data": {"values": [
      {"line": 0, "ind": 0, "t": "2C. Patient with T2DM"},
      {"line": 1, "ind": 0, "t": "The solid curve in the middle"},
      {"line": 2, "ind": 0, "t": "represents the smoothed median"},
      {"line": 3, "ind": 0, "t": "glucose (50ᵗʰ percentile) values for"},
      {"line": 4, "ind": 0, "t": "a 24-hour period. The blue shaded"},
      {"line": 5, "ind": 0, "t": "area around the median reflects"},
      {"line": 6, "ind": 0, "t": "the range between the 25ᵗʰ and"},
      {"line": 7, "ind": 0, "t": "75ᵗʰ percentiles, which includes"},
      {"line": 8, "ind": 0, "t": "50% of the patient’s glucose"},
      {"line": 9, "ind": 0, "t": "readings for any specified time of"},
      {"line": 10, "ind": 0, "t": "day. The average vertical distance"},
      {"line": 11, "ind": 0, "t": "between the shaded curves is the"},
      {"line": 12, "ind": 0, "t": "overall IQR. The dashed lines"},
      {"line": 13, "ind": 0, "t": "show smoothed 10ᵗʰ and 90ᵗʰ"},
      {"line": 14, "ind": 0, "t": "percentiles. The striped, shaded"},
      {"line": 15, "ind": 0, "t": "area shows the presumptive target"},
      {"line": 16, "ind": 0, "t": "range (70-180 mg/dL or 3.9-10"},
      {"line": 17, "ind": 0, "t": "mmol/L)."}
    ]},
    "mark": {"type": "text", "align": "left", "baseline": "middle", "font": "Liberation Serif", "fontSize": 26.5, "color": "#231f20"},
    "encoding": {
      "x": {"field": "ind", "type": "quantitative", "scale": {"domain": [0, 1], "range": [11.5, 59], "nice": false, "zero": false}, "axis": null},
      "y": {"field": "line", "type": "quantitative", "scale": {"domain": [0, 17], "range": [22, 520.1], "nice": false, "zero": false}, "axis": null},
      "text": {"field": "t"}
    }
  },
  {
    "width": 914, "height": 572,
    "view": {"stroke": "#707070", "strokeWidth": 2},
    "resolve": {"axis": {"x": "independent", "y": "independent"}},
    "layer": [
      {
        "data": {"values": [{"v":50},{"v":100},{"v":150},{"v":200},{"v":250},{"v":300},{"v":350},{"v":400},{"v":450}]},
        "mark": {"type": "rule", "color": "#c8c8c8", "strokeWidth": 1.5},
        "encoding": {
          "x": {"datum": 0, "type": "quantitative", "scale": {"domain": [0, 24], "range": [139, 812], "nice": false, "zero": false}, "axis": null},
          "x2": {"datum": 24},
          "y": {"field": "v", "type": "quantitative", "scale": {"domain": [0, 450], "range": [436, 93], "nice": false, "zero": false},
                "axis": {"orient": "left", "offset": -139, "values": [0,50,100,150,200,250,300,350,400,450], "labelFontSize": 17, "labelPadding": 6, "ticks": false, "domainColor": "#7cc3ec", "domainWidth": 2.5, "title": "Ambulatory Glucose Profile", "titleFontSize": 16, "titleFontWeight": "bold", "titleX": -65, "titleBaseline": "middle", "titleAngle": 270}}
        }
      },
      {
        "data": {"values": [{}]},
        "mark": {"type": "rect", "fill": {"gradient": "linear", "x1": 0, "y1": 0, "x2": 1.09, "y2": 0.097, "stops": [
          {"offset":0,"color":"#bbb"},{"offset":0.005,"color":"#f7f7f7"},{"offset":0.01,"color":"#bbb"},{"offset":0.015,"color":"#f7f7f7"},{"offset":0.02,"color":"#bbb"},{"offset":0.025,"color":"#f7f7f7"},{"offset":0.03,"color":"#bbb"},{"offset":0.035,"color":"#f7f7f7"},{"offset":0.04,"color":"#bbb"},{"offset":0.045,"color":"#f7f7f7"},
          {"offset":0.05,"color":"#bbb"},{"offset":0.055,"color":"#f7f7f7"},{"offset":0.06,"color":"#bbb"},{"offset":0.065,"color":"#f7f7f7"},{"offset":0.07,"color":"#bbb"},{"offset":0.075,"color":"#f7f7f7"},{"offset":0.08,"color":"#bbb"},{"offset":0.085,"color":"#f7f7f7"},{"offset":0.09,"color":"#bbb"},{"offset":0.095,"color":"#f7f7f7"},
          {"offset":0.1,"color":"#bbb"},{"offset":0.105,"color":"#f7f7f7"},{"offset":0.11,"color":"#bbb"},{"offset":0.115,"color":"#f7f7f7"},{"offset":0.12,"color":"#bbb"},{"offset":0.125,"color":"#f7f7f7"},{"offset":0.13,"color":"#bbb"},{"offset":0.135,"color":"#f7f7f7"},{"offset":0.14,"color":"#bbb"},{"offset":0.145,"color":"#f7f7f7"},
          {"offset":0.15,"color":"#bbb"},{"offset":0.155,"color":"#f7f7f7"},{"offset":0.16,"color":"#bbb"},{"offset":0.165,"color":"#f7f7f7"},{"offset":0.17,"color":"#bbb"},{"offset":0.175,"color":"#f7f7f7"},{"offset":0.18,"color":"#bbb"},{"offset":0.185,"color":"#f7f7f7"},{"offset":0.19,"color":"#bbb"},{"offset":0.195,"color":"#f7f7f7"},
          {"offset":0.2,"color":"#bbb"},{"offset":0.205,"color":"#f7f7f7"},{"offset":0.21,"color":"#bbb"},{"offset":0.215,"color":"#f7f7f7"},{"offset":0.22,"color":"#bbb"},{"offset":0.225,"color":"#f7f7f7"},{"offset":0.23,"color":"#bbb"},{"offset":0.235,"color":"#f7f7f7"},{"offset":0.24,"color":"#bbb"},{"offset":0.245,"color":"#f7f7f7"},
          {"offset":0.25,"color":"#bbb"},{"offset":0.255,"color":"#f7f7f7"},{"offset":0.26,"color":"#bbb"},{"offset":0.265,"color":"#f7f7f7"},{"offset":0.27,"color":"#bbb"},{"offset":0.275,"color":"#f7f7f7"},{"offset":0.28,"color":"#bbb"},{"offset":0.285,"color":"#f7f7f7"},{"offset":0.29,"color":"#bbb"},{"offset":0.295,"color":"#f7f7f7"},
          {"offset":0.3,"color":"#bbb"},{"offset":0.305,"color":"#f7f7f7"},{"offset":0.31,"color":"#bbb"},{"offset":0.315,"color":"#f7f7f7"},{"offset":0.32,"color":"#bbb"},{"offset":0.325,"color":"#f7f7f7"},{"offset":0.33,"color":"#bbb"},{"offset":0.335,"color":"#f7f7f7"},{"offset":0.34,"color":"#bbb"},{"offset":0.345,"color":"#f7f7f7"},
          {"offset":0.35,"color":"#bbb"},{"offset":0.355,"color":"#f7f7f7"},{"offset":0.36,"color":"#bbb"},{"offset":0.365,"color":"#f7f7f7"},{"offset":0.37,"color":"#bbb"},{"offset":0.375,"color":"#f7f7f7"},{"offset":0.38,"color":"#bbb"},{"offset":0.385,"color":"#f7f7f7"},{"offset":0.39,"color":"#bbb"},{"offset":0.395,"color":"#f7f7f7"},
          {"offset":0.4,"color":"#bbb"},{"offset":0.405,"color":"#f7f7f7"},{"offset":0.41,"color":"#bbb"},{"offset":0.415,"color":"#f7f7f7"},{"offset":0.42,"color":"#bbb"},{"offset":0.425,"color":"#f7f7f7"},{"offset":0.43,"color":"#bbb"},{"offset":0.435,"color":"#f7f7f7"},{"offset":0.44,"color":"#bbb"},{"offset":0.445,"color":"#f7f7f7"},
          {"offset":0.45,"color":"#bbb"},{"offset":0.455,"color":"#f7f7f7"},{"offset":0.46,"color":"#bbb"},{"offset":0.465,"color":"#f7f7f7"},{"offset":0.47,"color":"#bbb"},{"offset":0.475,"color":"#f7f7f7"},{"offset":0.48,"color":"#bbb"},{"offset":0.485,"color":"#f7f7f7"},{"offset":0.49,"color":"#bbb"},{"offset":0.495,"color":"#f7f7f7"},
          {"offset":0.5,"color":"#bbb"},{"offset":0.505,"color":"#f7f7f7"},{"offset":0.51,"color":"#bbb"},{"offset":0.515,"color":"#f7f7f7"},{"offset":0.52,"color":"#bbb"},{"offset":0.525,"color":"#f7f7f7"},{"offset":0.53,"color":"#bbb"},{"offset":0.535,"color":"#f7f7f7"},{"offset":0.54,"color":"#bbb"},{"offset":0.545,"color":"#f7f7f7"},
          {"offset":0.55,"color":"#bbb"},{"offset":0.555,"color":"#f7f7f7"},{"offset":0.56,"color":"#bbb"},{"offset":0.565,"color":"#f7f7f7"},{"offset":0.57,"color":"#bbb"},{"offset":0.575,"color":"#f7f7f7"},{"offset":0.58,"color":"#bbb"},{"offset":0.585,"color":"#f7f7f7"},{"offset":0.59,"color":"#bbb"},{"offset":0.595,"color":"#f7f7f7"},
          {"offset":0.6,"color":"#bbb"},{"offset":0.605,"color":"#f7f7f7"},{"offset":0.61,"color":"#bbb"},{"offset":0.615,"color":"#f7f7f7"},{"offset":0.62,"color":"#bbb"},{"offset":0.625,"color":"#f7f7f7"},{"offset":0.63,"color":"#bbb"},{"offset":0.635,"color":"#f7f7f7"},{"offset":0.64,"color":"#bbb"},{"offset":0.645,"color":"#f7f7f7"},
          {"offset":0.65,"color":"#bbb"},{"offset":0.655,"color":"#f7f7f7"},{"offset":0.66,"color":"#bbb"},{"offset":0.665,"color":"#f7f7f7"},{"offset":0.67,"color":"#bbb"},{"offset":0.675,"color":"#f7f7f7"},{"offset":0.68,"color":"#bbb"},{"offset":0.685,"color":"#f7f7f7"},{"offset":0.69,"color":"#bbb"},{"offset":0.695,"color":"#f7f7f7"},
          {"offset":0.7,"color":"#bbb"},{"offset":0.705,"color":"#f7f7f7"},{"offset":0.71,"color":"#bbb"},{"offset":0.715,"color":"#f7f7f7"},{"offset":0.72,"color":"#bbb"},{"offset":0.725,"color":"#f7f7f7"},{"offset":0.73,"color":"#bbb"},{"offset":0.735,"color":"#f7f7f7"},{"offset":0.74,"color":"#bbb"},{"offset":0.745,"color":"#f7f7f7"},
          {"offset":0.75,"color":"#bbb"},{"offset":0.755,"color":"#f7f7f7"},{"offset":0.76,"color":"#bbb"},{"offset":0.765,"color":"#f7f7f7"},{"offset":0.77,"color":"#bbb"},{"offset":0.775,"color":"#f7f7f7"},{"offset":0.78,"color":"#bbb"},{"offset":0.785,"color":"#f7f7f7"},{"offset":0.79,"color":"#bbb"},{"offset":0.795,"color":"#f7f7f7"},
          {"offset":0.8,"color":"#bbb"},{"offset":0.805,"color":"#f7f7f7"},{"offset":0.81,"color":"#bbb"},{"offset":0.815,"color":"#f7f7f7"},{"offset":0.82,"color":"#bbb"},{"offset":0.825,"color":"#f7f7f7"},{"offset":0.83,"color":"#bbb"},{"offset":0.835,"color":"#f7f7f7"},{"offset":0.84,"color":"#bbb"},{"offset":0.845,"color":"#f7f7f7"},
          {"offset":0.85,"color":"#bbb"},{"offset":0.855,"color":"#f7f7f7"},{"offset":0.86,"color":"#bbb"},{"offset":0.865,"color":"#f7f7f7"},{"offset":0.87,"color":"#bbb"},{"offset":0.875,"color":"#f7f7f7"},{"offset":0.88,"color":"#bbb"},{"offset":0.885,"color":"#f7f7f7"},{"offset":0.89,"color":"#bbb"},{"offset":0.895,"color":"#f7f7f7"},
          {"offset":0.9,"color":"#bbb"},{"offset":0.905,"color":"#f7f7f7"},{"offset":0.91,"color":"#bbb"},{"offset":0.915,"color":"#f7f7f7"},{"offset":0.92,"color":"#bbb"},{"offset":0.925,"color":"#f7f7f7"},{"offset":0.93,"color":"#bbb"},{"offset":0.935,"color":"#f7f7f7"},{"offset":0.94,"color":"#bbb"},{"offset":0.945,"color":"#f7f7f7"},
          {"offset":0.95,"color":"#bbb"},{"offset":0.955,"color":"#f7f7f7"},{"offset":0.96,"color":"#bbb"},{"offset":0.965,"color":"#f7f7f7"},{"offset":0.97,"color":"#bbb"},{"offset":0.975,"color":"#f7f7f7"},{"offset":0.98,"color":"#bbb"},{"offset":0.985,"color":"#f7f7f7"},{"offset":0.99,"color":"#bbb"},{"offset":0.995,"color":"#f7f7f7"}
        ]}},
        "encoding": {
          "x": {"datum": 0, "type": "quantitative", "axis": null},
          "x2": {"datum": 24},
          "y": {"datum": 70, "type": "quantitative", "axis": null},
          "y2": {"datum": 180}
        }
      },
      {
        "data": {"name": "iqr"},
        "mark": {"type": "area", "color": "#a8d9f2", "blend": "multiply"},
        "encoding": {
          "x": {"field": "h", "type": "quantitative", "axis": null},
          "y": {"field": "hi", "type": "quantitative", "axis": null},
          "y2": {"field": "lo"}
        }
      },
      {
        "data": {"values": [{"v": 70}, {"v": 180}]},
        "mark": {"type": "rule", "color": "#4a4a4a", "strokeWidth": 2.5},
        "encoding": {
          "x": {"datum": 0, "type": "quantitative", "axis": null},
          "x2": {"datum": 24},
          "y": {"field": "v", "type": "quantitative", "axis": null}
        }
      },
      {
        "data": {"name": "iqr"},
        "mark": {"type": "line", "color": "#3d8fd1", "strokeWidth": 2},
        "encoding": {"x": {"field": "h", "type": "quantitative", "axis": null}, "y": {"field": "lo", "type": "quantitative", "axis": null}}
      },
      {
        "data": {"name": "iqr"},
        "mark": {"type": "line", "color": "#3d8fd1", "strokeWidth": 2},
        "encoding": {"x": {"field": "h", "type": "quantitative", "axis": null}, "y": {"field": "hi", "type": "quantitative", "axis": null}}
      },
      {
        "data": {"name": "g50"},
        "mark": {"type": "line", "color": "#ee5a1c", "strokeWidth": 3.5},
        "encoding": {
          "x": {"field": "h", "type": "quantitative",
                "axis": {"orient": "bottom", "offset": -136, "values": [0,1,2,3,4,5,6,7,8,9,10,11,12,13,14,15,16,17,18,19,20,21,22,23,24],
                         "labelExpr": "datum.value % 2 ? '' : ((datum.value % 12 === 0 ? '12' : '' + (datum.value % 12)) + (datum.value < 12 || datum.value === 24 ? 'AM' : 'PM'))",
                         "labelFontSize": {"condition": {"test": "datum.value % 12 === 0", "value": 21}, "value": 14.5},
                         "labelBaseline": "alphabetic", "labelPadding": 23, "tickSize": 4, "tickColor": "#9fd2ee", "domainColor": "#7cc3ec", "domainWidth": 2.5,
                         "labelFlush": false, "labelOverlap": false, "labelColor": "#111",
                         "title": ["The Y axis scale and target range are the same as on the Ambulatory Glucose Profile graph above.", "\u200b", "* Indicates reference ranges, which are derived from normal reference population means ± 2 standard deviations. The five", "curves below represent frequency distributions of glucose data plotted according to time without regard to date."],
                         "titleFontSize": 13.3, "titleFontWeight": "normal", "titleLineHeight": 15.5, "titleBaseline": "alphabetic", "titleY": 52, "titleColor": "#333"}},
          "y": {"field": "v", "type": "quantitative", "axis": null}
        }
      },
      {
        "data": {"name": "g90"},
        "mark": {"type": "line", "color": "#5b9e30", "strokeWidth": 2.5, "strokeDash": [9, 6]},
        "encoding": {
          "x": {"field": "h", "type": "quantitative", "axis": null},
          "y": {"field": "v", "type": "quantitative",
                "axis": {"orient": "right", "offset": -102, "values": [0,50,100,150,200,250,300,350,400,450], "labelExpr": "format(datum.value / 18, '.1f')", "labelFontSize": 17, "labelPadding": 6, "ticks": false, "domainColor": "#7cc3ec", "domainWidth": 2.5, "title": null}}
        }
      },
      {
        "data": {"name": "g10"},
        "mark": {"type": "line", "color": "#5b9e30", "strokeWidth": 2.5, "strokeDash": [9, 6]},
        "encoding": {"x": {"field": "h", "type": "quantitative", "axis": null}, "y": {"field": "v", "type": "quantitative", "axis": null}}
      },
      {
        "data": {"values": [{}]},
        "mark": {"type": "rect", "fill": "white", "stroke": "#222", "strokeWidth": 1.5},
        "encoding": {"x": {"datum": 1.16, "type": "quantitative", "axis": null}, "x2": {"datum": 22.84}, "y": {"datum": 477, "type": "quantitative", "axis": null}, "y2": {"datum": 535}}
      },
      {
        "data": {"values": [{}]},
        "mark": {"type": "text", "text": "CGM", "align": "left", "baseline": "middle", "fontSize": 20, "color": "#222"},
        "encoding": {"x": {"datum": 1.7, "type": "quantitative", "axis": null}, "y": {"datum": 507, "type": "quantitative", "axis": null}}
      },
      {
        "data": {"values": [{}]},
        "mark": {"type": "point", "shape": "M-1,0H-0.4M0.4,0H1M0,-1V-0.4M0,0.4V1M-0.4,-0.4H0.4V0.4H-0.4Z", "size": 300, "filled": false, "stroke": "#555", "strokeWidth": 1.3},
        "encoding": {"x": {"datum": 4.22, "type": "quantitative", "axis": null}, "y": {"datum": 508, "type": "quantitative", "axis": null}}
      },
      {
        "data": {"values": [{}]},
        "mark": {"type": "text", "text": "Data Point", "align": "left", "baseline": "middle", "fontSize": 13.5, "fontWeight": "bold", "color": "#222"},
        "encoding": {"x": {"datum": 4.8, "type": "quantitative", "axis": null}, "y": {"datum": 506, "type": "quantitative", "axis": null}}
      },
      {
        "data": {"values": [{}]},
        "mark": {"type": "rect", "fill": "#ef6f24"},
        "encoding": {"x": {"datum": 7.87, "type": "quantitative", "axis": null}, "x2": {"datum": 11.5}, "y": {"datum": 486.5, "type": "quantitative", "axis": null}, "y2": {"datum": 527}}
      },
      {
        "data": {"values": [{}]},
        "mark": {"type": "text", "text": "50% - Median", "align": "center", "baseline": "middle", "fontSize": 13.5, "fontWeight": "bold", "color": "#2a1505"},
        "encoding": {"x": {"datum": 9.69, "type": "quantitative", "axis": null}, "y": {"datum": 506, "type": "quantitative", "axis": null}}
      },
      {
        "data": {"values": [{}]},
        "mark": {"type": "rect", "fill": "#abd9f2"},
        "encoding": {"x": {"datum": 12.05, "type": "quantitative", "axis": null}, "x2": {"datum": 15.65}, "y": {"datum": 486.5, "type": "quantitative", "axis": null}, "y2": {"datum": 527}}
      },
      {
        "data": {"values": [{}]},
        "mark": {"type": "rule", "color": "#3d8fd1", "strokeWidth": 2.5},
        "encoding": {"x": {"datum": 12.05, "type": "quantitative", "axis": null}, "x2": {"datum": 15.65}, "y": {"datum": 527, "type": "quantitative", "axis": null}}
      },
      {
        "data": {"values": [{}]},
        "mark": {"type": "rule", "color": "#3d8fd1", "strokeWidth": 2.5},
        "encoding": {"x": {"datum": 12.05, "type": "quantitative", "axis": null}, "x2": {"datum": 15.65}, "y": {"datum": 486.5, "type": "quantitative", "axis": null}}
      },
      {
        "data": {"values": [{}]},
        "mark": {"type": "text", "text": "25/75% - IQR", "align": "center", "baseline": "middle", "fontSize": 13.5, "fontWeight": "bold", "color": "#222"},
        "encoding": {"x": {"datum": 13.85, "type": "quantitative", "axis": null}, "y": {"datum": 506, "type": "quantitative", "axis": null}}
      },
      {
        "data": {"values": [{}]},
        "mark": {"type": "rule", "color": "#5b9e30", "strokeWidth": 2.5, "strokeDash": [8, 5]},
        "encoding": {"x": {"datum": 16.23, "type": "quantitative", "axis": null}, "x2": {"datum": 18.43}, "y": {"datum": 525.6, "type": "quantitative", "axis": null}}
      },
      {
        "data": {"values": [{}]},
        "mark": {"type": "rule", "color": "#5b9e30", "strokeWidth": 2.5, "strokeDash": [8, 5]},
        "encoding": {"x": {"datum": 16.23, "type": "quantitative", "axis": null}, "x2": {"datum": 18.43}, "y": {"datum": 486.5, "type": "quantitative", "axis": null}}
      },
      {
        "data": {"values": [{}]},
        "mark": {"type": "text", "text": "10/90%", "align": "center", "baseline": "middle", "fontSize": 13.5, "fontWeight": "bold", "color": "#222"},
        "encoding": {"x": {"datum": 17.33, "type": "quantitative", "axis": null}, "y": {"datum": 506, "type": "quantitative", "axis": null}}
      },
      {
        "data": {"values": [{}]},
        "mark": {"type": "rect", "fill": {"gradient": "linear", "x1": 0, "y1": 0, "x2": 1.2, "y2": 0.26, "stops": [
          {"offset":0,"color":"#c4c4c4"},{"offset":0.0417,"color":"#f2f2f2"},{"offset":0.0833,"color":"#c4c4c4"},{"offset":0.125,"color":"#f2f2f2"},{"offset":0.1667,"color":"#c4c4c4"},{"offset":0.2083,"color":"#f2f2f2"},
          {"offset":0.25,"color":"#c4c4c4"},{"offset":0.2917,"color":"#f2f2f2"},{"offset":0.3333,"color":"#c4c4c4"},{"offset":0.375,"color":"#f2f2f2"},{"offset":0.4167,"color":"#c4c4c4"},{"offset":0.4583,"color":"#f2f2f2"},
          {"offset":0.5,"color":"#c4c4c4"},{"offset":0.5417,"color":"#f2f2f2"},{"offset":0.5833,"color":"#c4c4c4"},{"offset":0.625,"color":"#f2f2f2"},{"offset":0.6667,"color":"#c4c4c4"},{"offset":0.7083,"color":"#f2f2f2"},
          {"offset":0.75,"color":"#c4c4c4"},{"offset":0.7917,"color":"#f2f2f2"},{"offset":0.8333,"color":"#c4c4c4"},{"offset":0.875,"color":"#f2f2f2"},{"offset":0.9167,"color":"#c4c4c4"},{"offset":0.9583,"color":"#f2f2f2"}
        ]}},
        "encoding": {"x": {"datum": 18.94, "type": "quantitative", "axis": null}, "x2": {"datum": 22.54}, "y": {"datum": 486.5, "type": "quantitative", "axis": null}, "y2": {"datum": 527}}
      },
      {
        "data": {"values": [{}]},
        "mark": {"type": "text", "text": "Target Range", "align": "center", "baseline": "middle", "fontSize": 13.5, "fontWeight": "bold", "color": "#222"},
        "encoding": {"x": {"datum": 20.74, "type": "quantitative", "axis": null}, "y": {"datum": 506, "type": "quantitative", "axis": null}}
      }
    ]
  },
  {
    "width": 393, "height": 42,
    "view": {"fill": "#c8c8c8", "stroke": null},
    "data": {"values": [{"line": 0, "ind": 0, "t": "Change in glucose over time"}]},
    "mark": {"type": "text", "align": "left", "baseline": "middle", "font": "Liberation Serif", "fontSize": 26.5, "fontWeight": "bold", "color": "#231f20"},
    "encoding": {
      "x": {"field": "ind", "type": "quantitative", "scale": {"domain": [0, 1], "range": [11.5, 59], "nice": false, "zero": false}, "axis": null},
      "y": {"field": "line", "type": "quantitative", "scale": {"domain": [0, 1], "range": [22, 51], "nice": false, "zero": false}, "axis": null},
      "text": {"field": "t"}
    }
  },
  {
    "width": 914, "height": 42,
    "view": {"fill": "#c8c8c8", "stroke": null},
    "data": {"values": []},
    "mark": "point"
  },
  {
    "width": 393, "height": 535,
    "view": {"stroke": "#707070", "strokeWidth": 2},
    "data": {"values": [
      {"line": 0, "ind": 0, "t": "3. Glucose by date for all glucose"},
      {"line": 1, "ind": 0, "t": "values. May also be used for:"},
      {"line": 2, "ind": 0, "t": "•"},
      {"line": 2, "ind": 1, "t": "Mean glucose"},
      {"line": 3, "ind": 0, "t": "•"},
      {"line": 3, "ind": 1, "t": "Fasting glucose"},
      {"line": 4, "ind": 0, "t": "•"},
      {"line": 4, "ind": 1, "t": "Glucose values at any"},
      {"line": 5, "ind": 1, "t": "selected time of day"}
    ]},
    "mark": {"type": "text", "align": "left", "baseline": "middle", "font": "Liberation Serif", "fontSize": 26.5, "color": "#231f20"},
    "encoding": {
      "x": {"field": "ind", "type": "quantitative", "scale": {"domain": [0, 1], "range": [11.5, 59], "nice": false, "zero": false}, "axis": null},
      "y": {"field": "line", "type": "quantitative", "scale": {"domain": [0, 5], "range": [23, 169.5], "nice": false, "zero": false}, "axis": null},
      "text": {"field": "t"}
    }
  },
  {
    "width": 914, "height": 535,
    "view": {"stroke": "#707070", "strokeWidth": 2},
    "resolve": {"axis": {"x": "independent", "y": "independent"}},
    "layer": [
      {
        "data": {"values": [{"g":50},{"g":100},{"g":150},{"g":200},{"g":250},{"g":300},{"g":350},{"g":400}]},
        "mark": {"type": "rule", "strokeWidth": 2},
        "encoding": {
          "x": {"datum": 0, "type": "quantitative", "scale": {"domain": [0, 372], "range": [241, 770], "nice": false, "zero": false}, "axis": null},
          "x2": {"datum": 372},
          "y": {"field": "g", "type": "quantitative", "scale": {"domain": [0, 400], "range": [423, 45], "nice": false, "zero": false}, "axis": null},
          "color": {"condition": {"test": "datum.g === 400", "value": "#a8a8a8"}, "value": "#1a1a1a"}
        }
      },
      {
        "data": {"name": "sc"},
        "mark": {"type": "point", "filled": true, "size": 24, "color": "#1c1c62", "opacity": 1},
        "encoding": {
          "x": {"field": "d", "type": "quantitative",
                "axis": {"orient": "bottom", "offset": -112, "values": [24,51,79,108,140,171,197,226,257,286,316,347], "labelExpr": "['Jan','Feb','Mar','Apr','May','Jun','Jul','Aug','Sep','Oct','Nov','Dec'][indexof([24,51,79,108,140,171,197,226,257,286,316,347], datum.value)]", "labelFontSize": 20, "labelPadding": 14, "labelBaseline": "middle", "ticks": false, "domainColor": "#111", "domainWidth": 2, "title": null, "labelFlush": false, "labelOverlap": false, "labelColor": "#111"}},
          "y": {"field": "g", "type": "quantitative",
                "axis": {"orient": "left", "offset": -241, "values": [0,50,100,150,200,250,300,350,400], "labelFontSize": 26, "labelPadding": 16, "ticks": false, "domainColor": "#111", "domainWidth": 2, "labelColor": "#111", "title": "Glucose (mg/dL)", "titleFontSize": 27, "titleFontWeight": "bold", "titleX": -95, "titleBaseline": "middle", "titleAngle": 270, "titleColor": "#111"}}
        }
      },
      {
        "data": {"name": "tr"},
        "mark": {"type": "line", "color": "#111", "strokeWidth": 2.8},
        "encoding": {
          "x": {"field": "d", "type": "quantitative",
                "axis": {"orient": "bottom", "offset": -112, "values": [0, 91, 182, 273, 365], "labelExpr": "['1/1','4/1','7/1','10/1','12/31'][indexof([0,91,182,273,365], datum.value)]", "labelFontSize": 25, "labelPadding": 38, "labelBaseline": "middle", "ticks": false, "domain": false, "labelFlush": false, "labelOverlap": false, "labelColor": "#111", "title": "Date", "titleFontSize": 27, "titleFontWeight": "bold", "titleX": 490, "titleY": 72, "titleBaseline": "middle", "titleColor": "#111"}},
          "y": {"field": "g", "type": "quantitative", "axis": null}
        }
      },
      {
        "data": {"values": [{"g":0},{"g":50},{"g":100},{"g":150},{"g":200},{"g":250},{"g":300},{"g":350},{"g":400}]},
        "mark": {"type": "rule", "color": "#111", "strokeWidth": 2},
        "encoding": {"y": {"field": "g", "type": "quantitative", "axis": null}, "x": {"datum": -5.5, "type": "quantitative", "axis": null}, "x2": {"datum": 6}}
      },
      {
        "data": {"values": [{"g":25},{"g":75},{"g":125},{"g":175},{"g":225},{"g":275},{"g":325},{"g":375}]},
        "mark": {"type": "rule", "color": "#111", "strokeWidth": 2},
        "encoding": {"y": {"field": "g", "type": "quantitative", "axis": null}, "x": {"datum": -2, "type": "quantitative", "axis": null}, "x2": {"datum": 4}}
      },
      {
        "data": {"values": [{"d":0},{"d":91},{"d":182},{"d":273},{"d":365}]},
        "mark": {"type": "rule", "color": "#111", "strokeWidth": 2},
        "encoding": {"x": {"field": "d", "type": "quantitative", "axis": null}, "y": {"datum": -7, "type": "quantitative", "axis": null}, "y2": {"datum": 7.5}}
      },
      {
        "data": {"values": [{"d":31},{"d":59},{"d":120},{"d":151},{"d":212},{"d":243},{"d":304},{"d":334}]},
        "mark": {"type": "rule", "color": "#111", "strokeWidth": 1.5},
        "encoding": {"x": {"field": "d", "type": "quantitative", "axis": null}, "y": {"datum": -3, "type": "quantitative", "axis": null}, "y2": {"datum": 4}}
      }
    ]
  }
]
}
